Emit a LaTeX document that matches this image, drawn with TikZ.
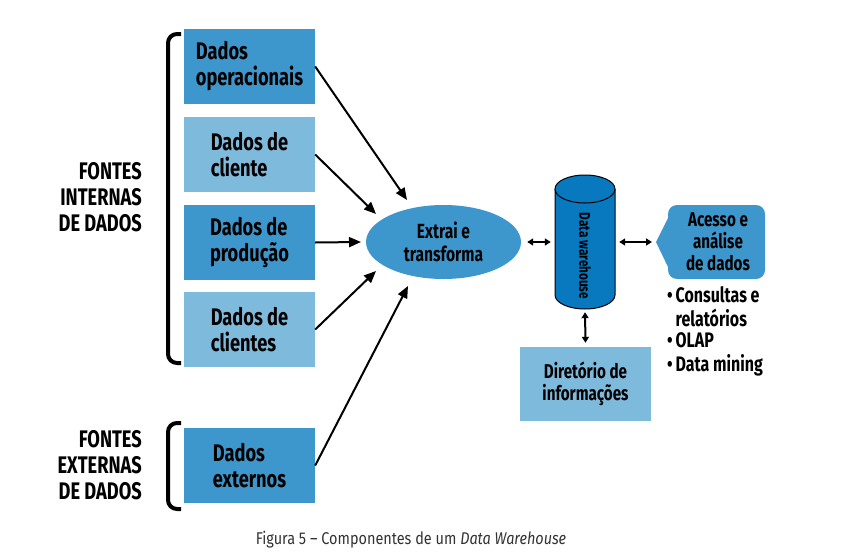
\documentclass[tikz,border=0pt]{standalone}
\usepackage{fontspec}
\setmainfont{Fira Sans}[FakeStretch=0.76]
\newfontfamily\capfont{Fira Sans}[FakeStretch=0.85]
\usetikzlibrary{arrows.meta,shapes.geometric}
\definecolor{dkblue}{RGB}{61,151,204}
\definecolor{ltblue}{RGB}{126,186,220}
\definecolor{cylblue}{RGB}{8,121,191}
\definecolor{capgray}{RGB}{50,50,50}
\tikzset{
  box/.style={rectangle, minimum width=131pt, minimum height=75pt, inner sep=0pt, align=left, font=\bfseries\fontsize{24}{26}\selectfont},
  dkbox/.style={box, fill=dkblue},
  ltbox/.style={box, fill=ltblue},
  arr/.style={line width=2pt, -{Triangle[length=12pt,width=10pt]}},
  dbl/.style={line width=2pt, {Triangle[length=6pt,width=7pt]}-{Triangle[length=6pt,width=7pt]}},
  brk/.style={line width=4pt, rounded corners=9pt},
  side/.style={align=right, inner sep=0pt, font=\bfseries\fontsize{24}{26}\selectfont},
  small/.style={font=\bfseries\fontsize{20}{22}\selectfont},
}
\begin{document}
\begin{tikzpicture}[x=1pt,y=-1pt]
\useasboundingbox (0,0) rectangle (860,557);
% source boxes
\node[dkbox] (b1) at (249.5,66.5) {Dados\\operacionais};
\node[ltbox] (b2) at (249.5,154.5) {Dados de\\cliente};
\node[dkbox] (b3) at (249.5,242.5) {Dados de\\produção};
\node[ltbox] (b4) at (249.5,329.5) {Dados de\\clientes};
\node[dkbox] (b5) at (249.5,465.5) {Dados\\externos};
% brackets
\draw[brk] (181,34) -- (168,34) -- (168,363) -- (181,363);
\draw[brk] (181,423) -- (168,423) -- (168,509) -- (181,509);
% side labels
\node[side, anchor=east] (lint) at (142,197) {FONTES\\INTERNAS\\DE DADOS};
\node[side, anchor=east] (lext) at (142,465) {FONTES\\EXTERNAS\\DE DADOS};
% extract ellipse
\node[ellipse, fill=dkblue, minimum width=155pt, minimum height=74pt, inner sep=0pt, font=\bfseries\fontsize{20.5}{23}\selectfont, align=center] (ext) at (443.5,242) {Extrai e\\transforma};
% arrow tips
\coordinate (t1) at (407,200);
\coordinate (t2) at (376,214);
\coordinate (t3) at (361,242);
\coordinate (t4) at (376,271);
\coordinate (t5) at (408,286);
\draw[arr] (b1.east) -- (t1);
\draw[arr] (b2.east) -- (t2);
\draw[arr] (b3.east) -- (t3);
\draw[arr] (b4.east) -- (t4);
\draw[arr] (b5.east) -- (t5);
% cylinder
\fill[cylblue] (555,189) rectangle (615,295);
\fill[cylblue] (585,295) ellipse (30 and 14);
\draw[line width=1pt] (555,189) -- (555,295) arc (180:0:30 and 14) -- (615,189);
\filldraw[fill=cylblue, line width=1pt] (585,189) ellipse (30 and 14);
\node[minimum width=60pt, minimum height=134pt, inner sep=0pt] (dw) at (585,242) {};
\node[rotate=-90, inner sep=0pt, font=\bfseries\fontsize{15.5}{17}\selectfont] (dwlbl) at (585,256) {Data warehouse};
% access
\fill[dkblue] (656,242) -- (668,218) [rounded corners=9pt] -- (668,205) -- (765,205) -- (765,279) -- (668,279) [sharp corners] -- (668,267) -- cycle;
\coordinate (acctip) at (655,242);
\node[small, align=center, inner sep=0pt] (acc) at (718,242) {Acesso e\\análise\\de dados};
\node[anchor=north west, inner sep=0pt, font=\bfseries\fontsize{21}{21.5}\selectfont] (lst) at (667,286) {\begin{tabular}{@{}l@{\hspace{3pt}}l@{}}•&Consultas e\\ &relatórios\\ •&OLAP\\ •&Data mining\end{tabular}};
% directory
\node[ltbox, minimum height=74pt, small, align=center] (dir) at (585.5,384) {Diretório de\\informações};
% double arrows
\draw[dbl] ([xshift=6pt]ext.east) -- ([xshift=-4pt]dw.west);
\draw[dbl] ([xshift=4pt]dw.east) -- ([xshift=-3pt]acctip);
\draw[dbl] ([yshift=-3pt]dw.south) -- ([yshift=4pt]dir.north);
% caption
\node[font=\capfont\fontsize{17}{20}\selectfont, text=capgray, inner sep=0pt] (cap) at (411,540) {Figura 5 – Componentes de um \textit{Data Warehouse}};
\end{tikzpicture}
\end{document}
